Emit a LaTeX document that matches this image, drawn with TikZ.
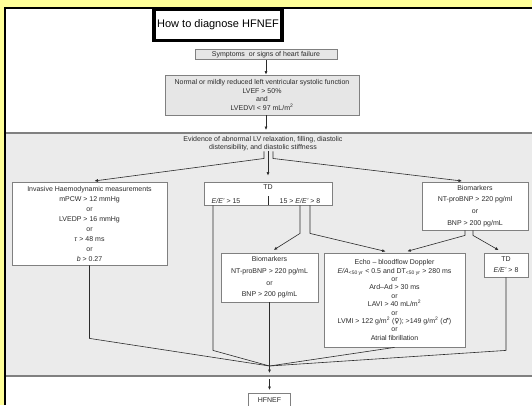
\documentclass[tikz,border=0pt]{standalone}
\usepackage{fontspec}
\setmainfont{Liberation Sans}
\newfontfamily\symfont{DejaVu Sans}
\usetikzlibrary{positioning,arrows.meta}
\definecolor{pagebg}{HTML}{FFFF99}
\definecolor{zonebg}{HTML}{EBEBEB}
\definecolor{boxline}{HTML}{808080}
\definecolor{boxfill}{HTML}{E6E6E6}
\definecolor{ink}{HTML}{2B2B2B}

\begin{document}
\begin{tikzpicture}[x=1pt,y=-1pt,
            crit/.style={
                    draw=boxline,
                    line width=0.8pt,
                    fill=white,
                    text=ink,
                    align=center,
                    inner sep=0pt,
                    font=\fontsize{7}{10}\selectfont
                },
            pre/.style={crit,fill=boxfill},
            link/.style={draw=ink,line width=0.6pt,-{Latex[length=3.5pt,width=3pt]}},
            feed/.style={draw=ink,line width=0.6pt}
        ]
        \useasboundingbox (0,0) rectangle (532,405);
        \fill[pagebg] (0,0) rectangle (532,405);
        \fill[white] (5,8) rectangle (532,405);
        \draw[line width=1.5pt] (5,405) -- (5,8) -- (532,8);
        \fill[zonebg] (6,133) rectangle (532,376);
        \draw[boxline,line width=1.5pt] (6,133) -- (532,133) (6,376) -- (532,376);

        \node[crit,draw=black,line width=3.5pt,minimum width=128,minimum height=31,
            font=\fontsize{11}{13}\selectfont,text=black] (title) at (218,25)
        {How to diagnose HFNEF};
        \node[pre,minimum width=142,minimum height=10] (symp) at (266,54.5)
        {Symptoms\ \ or signs of heart failure};
        \node[pre,minimum width=194,minimum height=40,font=\fontsize{7}{8.6}\selectfont] (normal) at (262,95)
        {Normal or mildly reduced left ventricular systolic function\\LVEF > 50\%\\and\\LVEDVI < 97 mL/m\textsuperscript{2}};
        \coordinate (entry) at (266,130);

        \node[align=center,inner sep=0pt,text=ink,font=\fontsize{7}{8}\selectfont] (evid) at (263,144)
        {Evidence of abnormal LV relaxation, filling, diastolic\\distensibility, and diastolic stiffness};

        \node[crit,minimum width=155,minimum height=83] (inv) at (89.5,223.5)
        {Invasive Haemodynamic measurements\\mPCW > 12 mmHg\\or\\LVEDP > 16 mmHg\\or\\\textit{τ} > 48 ms\\or\\\textit{b} > 0.27};
        \node[crit,minimum width=128,minimum height=23] (td) at (268,193.5) {};
        \node[text=ink,inner sep=0pt,font=\fontsize{7}{8}\selectfont,below=3pt of td.north] (tdhead) {TD};
        \node[text=ink,inner sep=0pt,font=\fontsize{7}{8}\selectfont] (tdhigh) at (226,200.5) {\textit{E/E'} > 15};
        \node[text=ink,inner sep=0pt,font=\fontsize{7}{8}\selectfont] (tdmid) at (300,200.5) {15 > \textit{E/E'} > 8};
        \node[crit,minimum width=106,minimum height=48,font=\fontsize{7}{11.7}\selectfont] (bior) at (475,206)
        {Biomarkers\\NT-proBNP > 220 pg/ml\\or\\BNP > 200 pg/mL};

        \node[crit,minimum width=97,minimum height=49,font=\fontsize{7}{11.7}\selectfont] (biom) at (269.5,277.5)
        {Biomarkers\\NT-proBNP > 220 pg/mL\\or\\BNP > 200 pg/mL};
        \node[crit,minimum width=141,minimum height=94,font=\fontsize{7}{8.4}\selectfont] (echo) at (394.5,300)
        {Echo -- bloodflow Doppler\\
            \textit{E/A}\textsubscript{<50 yr} < 0.5 and DT\textsubscript{<50 yr} > 280 ms\\or\\
            Ard--Ad > 30 ms\\or\\LAVI > 40 mL/m\textsuperscript{2}\\or\\
            LVMI > 122 g/m\textsuperscript{2} ({\symfont ♀}); >149 g/m\textsuperscript{2} ({\symfont ♂})\\or\\
            Atrial fibrillation};
        \node[crit,minimum width=44,minimum height=24,font=\fontsize{7}{11}\selectfont] (tdr) at (506,265)
        {TD\\\textit{E/E'} > 8};

        \coordinate (meet) at (269.5,366);
        \coordinate (gate) at (269.5,373);
        \coordinate (exit) at (269.5,379);
        \node[crit,minimum width=42,minimum height=13,anchor=north] (hfnef) at (269.5,393) {HFNEF};

        \draw[link] (symp) -- (symp |- normal.north);
        \draw[link] (symp |- normal.south) -- (entry);
        \draw[link,shorten >=5pt] ([xshift=1pt]evid.south) -- ++(0,7) -- (inv.north);
        \draw[link,shorten >=6pt] ([xshift=5pt]evid.south) -- (td.north);
        \draw[link,shorten >=5pt] ([xshift=10pt]evid.south) -- ++(0,7) -- ([xshift=-8pt]bior.north);
        \draw[feed] (td.south) -- ++(0,-9);

        \draw[link,shorten >=5pt] ([xshift=32pt]td.south) -- ++(0,28) -- (biom.north);
        \draw[link,shorten >=5pt] ([xshift=42pt]td.south) -- ++(0,28) -- ([xshift=-4pt]echo.north);
        \draw[link,shorten >=5pt] ([xshift=-10pt]bior.south) -- ++(0,5) -- ([xshift=8pt]echo.north);
        \draw[link,shorten >=5pt] ([xshift=-2pt]bior.south) -- ++(0,5) -- ([xshift=-3pt]tdr.north);

        \draw[feed] (inv.south) -- ++(0,73) -- (meet);
        \draw[feed] ([xshift=-55pt]td.south) -- ++(0,145) -- (meet);
        \draw[feed] (echo.south) -- (meet);
        \draw[feed] (tdr.south) -- ++(0,73) -- (meet);
        \draw[link] (biom.south) -- (gate);
        \draw[link,shorten >=3pt] (exit) -- (hfnef.north);
    \end{tikzpicture}
\end{document}
